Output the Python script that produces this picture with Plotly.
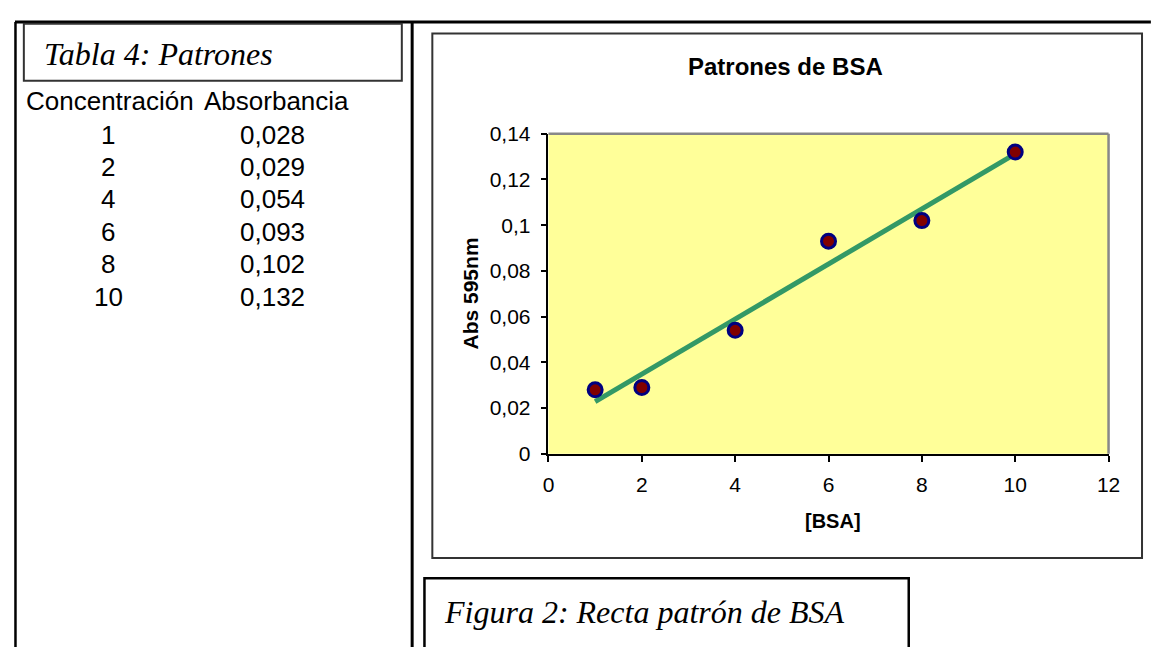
import plotly.graph_objects as go

# ---- data ----
conc = [1, 2, 4, 6, 8, 10]
absorb = [0.028, 0.029, 0.054, 0.093, 0.102, 0.132]
trend_x = [1, 10]
trend_y = [0.0228, 0.1312]
x_ticks = [0, 2, 4, 6, 8, 10, 12]
y_ticks = [0, 0.02, 0.04, 0.06, 0.08, 0.1, 0.12, 0.14]

table_title = "Tabla 4: Patrones"
col_headers = ["Concentración", "Absorbancia"]
chart_title = "Patrones de BSA"
x_title = "[BSA]"
y_title = "Abs 595nm"
caption = "Figura 2: Recta patrón de BSA"

# page body has a default 8px margin: size the figure so it fits the window
OFF = 8
W, H = 1163 - 2 * OFF, 655 - 2 * OFF
SANS = "Liberation Sans, Arial, sans-serif"
SERIF = "Liberation Serif, Times New Roman, serif"


def px(x):
    return (x - OFF) / W


def py(y):
    return 1 - (y - OFF) / H


# plot area in screen pixels
PL, PR, PT, PB = 551, 1120, 126, 458

fig = go.Figure()
fig.add_trace(go.Scatter(
    x=trend_x, y=trend_y, mode="lines",
    line=dict(color="#339966", width=5),
    hoverinfo="skip", showlegend=False,
))
fig.add_trace(go.Scatter(
    x=conc, y=absorb, mode="markers",
    marker=dict(size=14, color="#800000", line=dict(color="#000080", width=3)),
    showlegend=False,
))

fig.update_layout(
    width=W, height=H,
    margin=dict(l=0, r=0, t=0, b=0, pad=0),
    paper_bgcolor="white",
    plot_bgcolor="#FFFF99",
    separators=",.",
    xaxis=dict(
        domain=[px(PL), px(PR)], range=[0, 12], tickvals=x_ticks,
        showgrid=False, zeroline=False, showline=True, linecolor="black", linewidth=1.5,
        ticks="outside", ticklen=6, tickcolor="black", tickwidth=1.5,
        tickfont=dict(family=SANS, size=21, color="black"), ticklabelstandoff=5,
    ),
    yaxis=dict(
        domain=[py(PB), py(PT)], range=[0, 0.14], tickvals=y_ticks,
        showgrid=False, zeroline=False, showline=True, linecolor="black", linewidth=1.5,
        ticks="outside", ticklen=6, tickcolor="black", tickwidth=1.5,
        tickfont=dict(family=SANS, size=21, color="black"), ticklabelstandoff=6,
    ),
)

shapes = []


def line(x0, y0, x1, y1, color="black", width=2):
    shapes.append(dict(type="line", xref="paper", yref="paper",
                       x0=px(x0), y0=py(y0), x1=px(x1), y1=py(y1),
                       line=dict(color=color, width=width)))


def rect(x0, y0, x1, y1, color="black", width=2):
    shapes.append(dict(type="rect", xref="paper", yref="paper",
                       x0=px(x0), y0=py(y0), x1=px(x1), y1=py(y1),
                       line=dict(color=color, width=width), fillcolor="rgba(0,0,0,0)"))


# page/table borders
line(9, 10, 1163, 10, width=3)
line(9.5, 10, 9.5, 660, width=2.5)
line(412.5, 10, 412.5, 660, width=3)
# table title box
rect(18, 12, 402, 71, color="#333333", width=2)
# chart frame
rect(433, 22, 1154, 566, color="#333333", width=2)
# caption box
rect(425, 587, 917, 662, color="black", width=2.5)
# plot area gray border top/right
line(PL, PT, PR, PT, color="#888888", width=2.5)
line(PR, PT, PR, PB, color="#888888", width=2.5)

annotations = []


def text(x, y, s, size, family=SANS, xanchor="center", yanchor="middle", bold=False,
         italic=False, angle=0):
    if bold:
        s = "<b>" + s + "</b>"
    if italic:
        s = "<i>" + s + "</i>"
    annotations.append(dict(xref="paper", yref="paper", x=px(x), y=py(y), text=s,
                            showarrow=False, xanchor=xanchor, yanchor=yanchor,
                            textangle=angle,
                            font=dict(family=family, size=size, color="black")))


# left table
text(36, 43, table_title, 32, family=SERIF, xanchor="left", italic=True)
text(18, 92, col_headers[0], 26, xanchor="left")
text(199, 92, col_headers[1], 26, xanchor="left")
row0, step = 127, 33.6
for i, (c, a) in enumerate(zip(conc, absorb)):
    yy = row0 + i * step
    text(104, yy, str(c), 26)
    text(271, yy, f"{a:.3f}".replace(".", ","), 26)

# chart texts
text(792, 56, chart_title, 24, bold=True)
text(472, 292, y_title, 21, bold=True, angle=-90)
text(840, 528, x_title, 20, bold=True)
# caption
text(443, 622, caption, 32, family=SERIF, xanchor="left", italic=True)

fig.update_layout(shapes=shapes, annotations=annotations)
fig.write_html("out.html")
